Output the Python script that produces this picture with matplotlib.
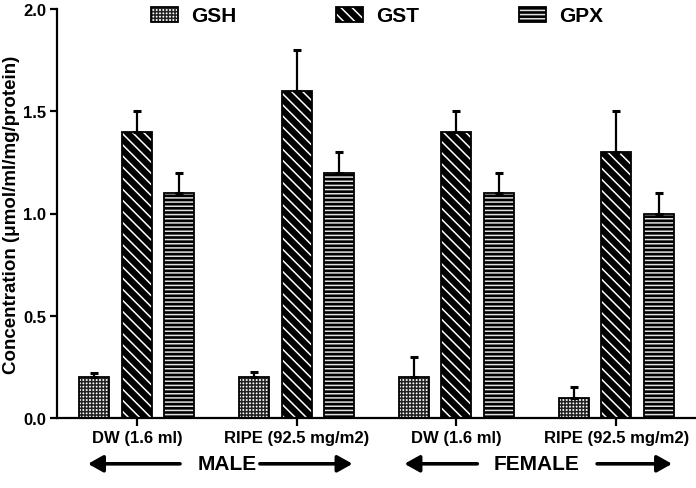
import matplotlib
matplotlib.use("Agg")
import matplotlib.pyplot as plt
import numpy as np
from matplotlib.patches import Patch
from matplotlib.legend_handler import HandlerTuple
import matplotlib.transforms as mtransforms

plt.rcParams['font.family'] = ['Liberation Sans', 'DejaVu Sans']
plt.rcParams['font.weight'] = 'bold'
plt.rcParams['hatch.linewidth'] = 1.1

categories = ["DW (1.6 ml)", "RIPE (92.5 mg/m2)", "DW (1.6 ml)", "RIPE (92.5 mg/m2)"]
series_names = ["GSH", "GST", "GPX"]
gsh = [0.2, 0.2, 0.2, 0.1]
gsh_err = [0.02, 0.025, 0.1, 0.05]
gst = [1.4, 1.6, 1.4, 1.3]
gst_err = [0.1, 0.2, 0.1, 0.2]
gpx = [1.1, 1.2, 1.1, 1.0]
gpx_err = [0.1, 0.1, 0.1, 0.1]
sex_labels = ["MALE", "FEMALE"]
yticks = [0.0, 0.5, 1.0, 1.5, 2.0]

fig = plt.figure(figsize=(6.96, 4.89), dpi=100)
ax = fig.add_axes([57/696, 70/489, 639/696, 409/489])

x = np.arange(len(categories))
w = 0.1875
offsets = [-0.2656, 0.0, 0.2656]
values = [gsh, gst, gpx]
errors = [gsh_err, gst_err, gpx_err]
styles = [
    dict(facecolor='white', edgecolor='#222222', hatch='+++++'),
    dict(facecolor='black', edgecolor='white', hatch='\\\\\\'),
    dict(facecolor='black', edgecolor='#e0e0e0', hatch='----'),
]
handles = []
for vals, errs, off, st in zip(values, errors, offsets, styles):
    ax.bar(x + off, vals, w, linewidth=0, zorder=2, **st)
    ax.bar(x + off, vals, w, facecolor='none', edgecolor='black', linewidth=1.3, zorder=3)
    ax.errorbar(x + off, vals, yerr=[np.zeros(len(vals)), errs], fmt='none',
                ecolor='black', elinewidth=1.6, capsize=3, capthick=2.2, zorder=4)
    hp = Patch(linewidth=0, **st)
    op = Patch(facecolor='none', edgecolor='black', linewidth=1.3)
    handles.append((hp, op))

ax.set_xlim(-0.5, 3.5)
ax.set_ylim(0, 2.0)
ax.set_yticks(yticks)
ax.set_yticklabels([f"{t:.1f}" for t in yticks])
ax.set_xticks(x)
ax.set_xticklabels(categories)
ax.tick_params(axis='both', labelsize=12, width=1.6, length=5, direction='out')
ax.tick_params(axis='x', length=6, pad=3)
ax.tick_params(axis='y', pad=3)
for lbl in ax.get_xticklabels() + ax.get_yticklabels():
    lbl.set_fontweight('bold')
for s in ['top', 'right']:
    ax.spines[s].set_visible(False)
for s in ['left', 'bottom']:
    ax.spines[s].set_linewidth(1.6)

ax.set_ylabel("Concentration (μmol/ml/mg/protein)", fontsize=13.5, fontweight='bold', labelpad=2)

fig.legend(handles, series_names, handler_map={tuple: HandlerTuple(ndivide=1)},
           loc='center', bbox_to_anchor=(377/696, 1 - 17/489), ncol=3, frameon=False,
           prop=dict(size=15, weight='bold'), handlelength=1.3, handleheight=0.7,
           handletextpad=0.62, columnspacing=4.8)

# group labels with arrows
trans = mtransforms.blended_transform_factory(ax.transData, ax.transAxes)
yarr = -0.112
arrow_kw = dict(arrowstyle='-|>,head_length=0.5,head_width=0.28', lw=2.6, color='black',
                shrinkA=0, shrinkB=0, mutation_scale=18)
groups = [
    (sex_labels[0], -0.306, 0.27, 0.5625, 0.77, 1.35),
    (sex_labels[1], 1.675, 2.131, 2.503, 2.881, 3.35),
]
for lab, ltip, lend, tc, rstart, rtip in groups:
    ax.annotate('', xy=(ltip, yarr), xytext=(lend, yarr), xycoords=trans, textcoords=trans,
                arrowprops=arrow_kw, annotation_clip=False)
    ax.annotate('', xy=(rtip, yarr), xytext=(rstart, yarr), xycoords=trans, textcoords=trans,
                arrowprops=arrow_kw, annotation_clip=False)
    ax.text(tc, yarr, lab, transform=trans, ha='center', va='center', fontsize=15,
            fontweight='bold', clip_on=False)

fig.savefig("out.png", dpi=100)
